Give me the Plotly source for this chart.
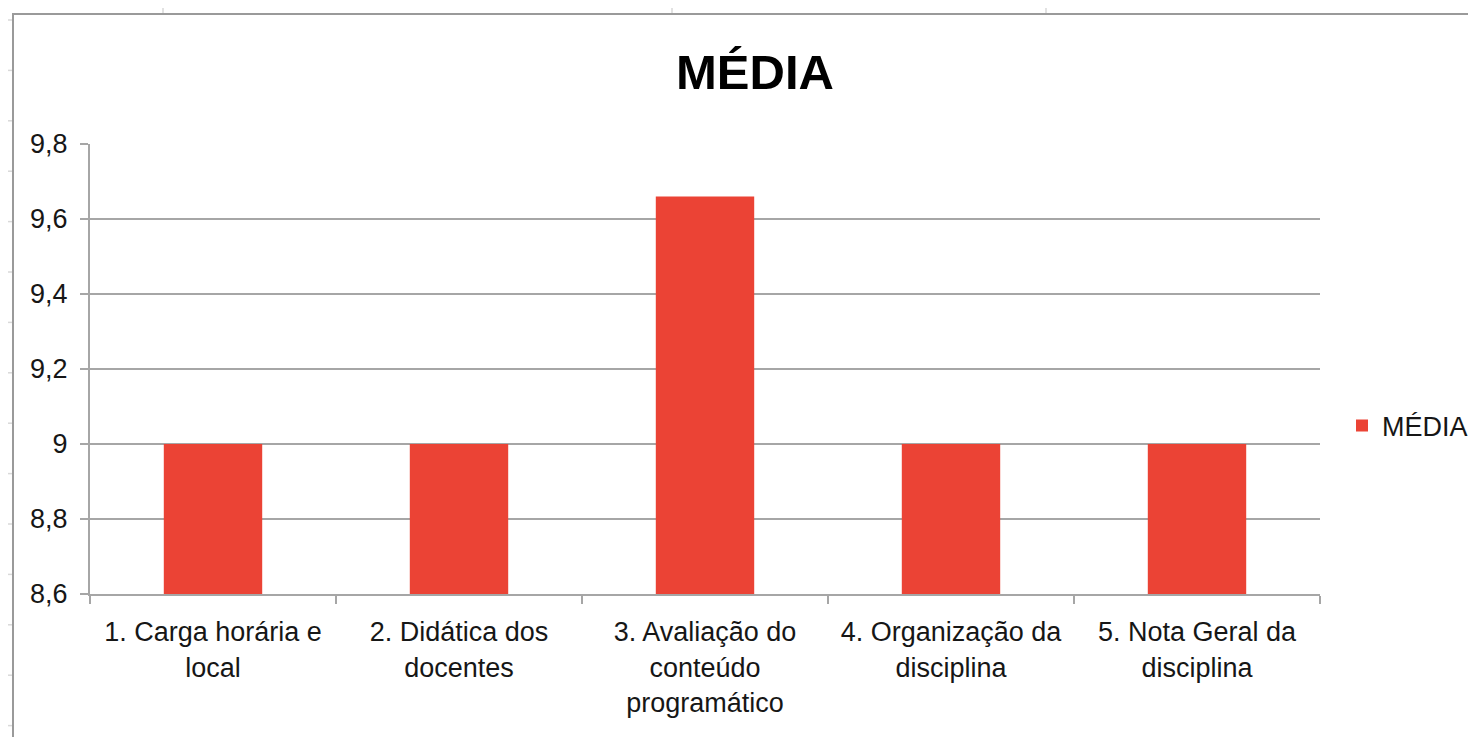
import plotly.graph_objects as go

categories = [
    "1. Carga horária e<br>local",
    "2. Didática dos<br>docentes",
    "3. Avaliação do<br>conteúdo<br>programático",
    "4. Organização da<br>disciplina",
    "5. Nota Geral da<br>disciplina",
]
media_values = [9.0, 9.0, 9.66, 9.0, 9.0]
y_ticks = [8.6, 8.8, 9.0, 9.2, 9.4, 9.6, 9.8]
series_name = "MÉDIA"
title_text = "MÉDIA"

# the page body has an 8px margin; work in reference pixels and subtract it
OFF = 8
W, H = 1476 - OFF, 737 - OFF
PL, PR, PT, PB = 90, 1320, 144, 594  # plot area in reference pixels
L, T = PL - OFF, PT - OFF
R, B = W - (PR - OFF), H - (PB - OFF)
pw, ph = W - L - R, H - T - B

def px(x):
    return (x - OFF - L) / pw

def py(y):
    return (H - B - (y - OFF)) / ph

FONT = "Liberation Sans, Arial, sans-serif"
GRID = "#a6a6a6"
TXT = "#161616"

fig = go.Figure()
fig.add_trace(go.Bar(
    x=categories, y=media_values, name=series_name,
    marker=dict(color="#EB4335", line=dict(width=0)),
    width=0.4, showlegend=True,
))

shapes = []
# spreadsheet cell lines outside the chart frame
for xv in [163, 672, 1046]:
    shapes.append(dict(type="line", xref="paper", yref="paper",
                       x0=px(xv), x1=px(xv), y0=py(OFF), y1=py(14),
                       line=dict(color="#d9d9d9", width=1.5), layer="below"))
for k in range(15):
    yv = 20 + 50.4 * k
    shapes.append(dict(type="line", xref="paper", yref="paper",
                       x0=px(OFF), x1=px(12), y0=py(yv), y1=py(yv),
                       line=dict(color="#d9d9d9", width=1.5), layer="below"))
# chart frame
shapes.append(dict(type="rect", xref="paper", yref="paper",
                   x0=px(13), x1=px(1500), y0=py(760), y1=py(14),
                   line=dict(color="#9a9a9a", width=2), layer="below"))

fig.update_layout(
    width=W, height=H,
    margin=dict(l=L, r=R, t=T, b=B, autoexpand=False, pad=0),
    paper_bgcolor="white", plot_bgcolor="white",
    separators=", ",
    font=dict(family=FONT, size=27, color=TXT),
    title=dict(text="<b>" + title_text + "</b>", x=px(755), xanchor="center", xref="paper",
               y=1 - (72 - OFF) / H, yanchor="middle",
               font=dict(family=FONT, size=49, color="black")),
    bargap=0.6,
    showlegend=True,
    legend=dict(x=px(1342), xanchor="left", y=py(426), yanchor="middle",
                font=dict(family=FONT, size=27, color=TXT),
                bgcolor="rgba(0,0,0,0)", itemwidth=30),
    shapes=shapes,
)
fig.update_xaxes(
    type="category", showline=True, linecolor=GRID, linewidth=2,
    ticks="outside", ticklen=8, tickcolor=GRID, tickwidth=2,
    tickson="boundaries", showgrid=False, tickangle=0,
    ticklabelstandoff=13,
    tickfont=dict(family=FONT, size=27, color=TXT),
)
fig.update_yaxes(
    range=[8.6, 9.8], tickvals=y_ticks, showline=True, linecolor=GRID, linewidth=2,
    ticks="outside", ticklen=8, tickcolor=GRID, tickwidth=2,
    showgrid=True, gridcolor=GRID, gridwidth=2, zeroline=False,
    ticklabelstandoff=7,
    tickfont=dict(family=FONT, size=27, color=TXT),
)
fig.write_html("out.html")
